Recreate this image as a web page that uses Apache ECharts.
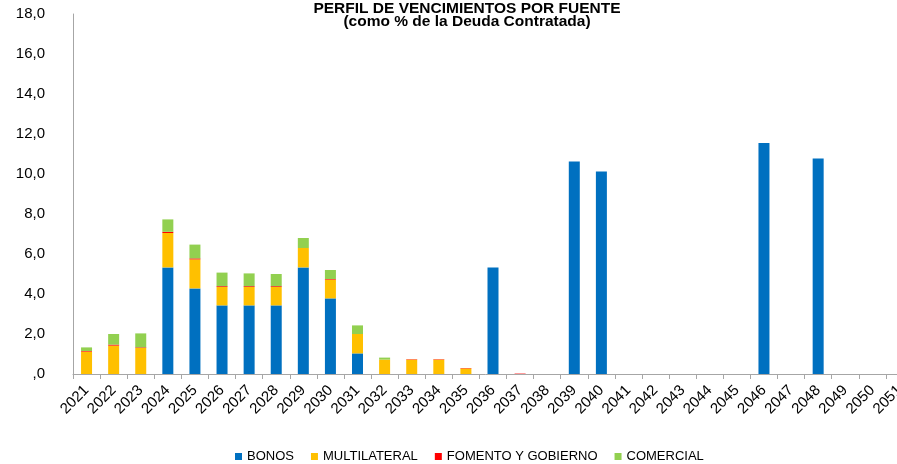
<!DOCTYPE html>
<html>
<head>
<meta charset="utf-8">
<script src="https://cdn.jsdelivr.net/npm/echarts@6/dist/echarts.min.js"></script>
<style>
  html, body { margin: 0; padding: 0; background: #ffffff; }
  #chart { width: 897px; height: 464px; }
</style>
</head>
<body>
<div id="chart"></div>
<script>
const categories = ['2021','2022','2023','2024','2025','2026','2027','2028','2029','2030','2031','2032','2033','2034','2035','2036','2037','2038','2039','2040','2041','2042','2043','2044','2045','2046','2047','2048','2049','2050','2051'];
const bonos        = [0, 0, 0, 5.33, 4.28, 3.43, 3.43, 3.43, 5.33, 3.78, 1.03, 0, 0, 0, 0, 5.33, 0, 0, 10.62, 10.12, 0, 0, 0, 0, 0, 11.55, 0, 10.77, 0, 0, 0];
const multilateral = [1.12, 1.42, 1.30, 1.72, 1.45, 0.92, 0.92, 0.92, 0.97, 0.94, 0.97, 0.72, 0.72, 0.72, 0.28, 0, 0, 0, 0, 0, 0, 0, 0, 0, 0, 0, 0, 0, 0, 0, 0];
const fomento      = [0.03, 0.05, 0.03, 0.06, 0.05, 0.04, 0.04, 0.04, 0, 0.03, 0, 0, 0.02, 0.02, 0.02, 0, 0.02, 0, 0, 0, 0, 0, 0, 0, 0, 0, 0, 0, 0, 0, 0];
const comercial    = [0.18, 0.53, 0.70, 0.62, 0.69, 0.68, 0.64, 0.61, 0.50, 0.45, 0.43, 0.10, 0, 0, 0, 0, 0, 0, 0, 0, 0, 0, 0, 0, 0, 0, 0, 0, 0, 0, 0];
const yTickLabels  = [',0', '2,0', '4,0', '6,0', '8,0', '10,0', '12,0', '14,0', '16,0', '18,0'];
const seriesNames  = ['BONOS', 'MULTILATERAL', 'FOMENTO Y GOBIERNO', 'COMERCIAL'];
const titleLines   = ['PERFIL DE VENCIMIENTOS POR FUENTE', '(como % de la Deuda Contratada)'];

const FONT = "'Liberation Sans', Arial, sans-serif";
const colors = ['#0070C0', '#FFC000', '#FF0000', '#92D050'];
const seriesData = [bonos, multilateral, fomento, comercial];

const chart = echarts.init(document.getElementById('chart'), null, { renderer: 'canvas' });
chart.setOption({
  animation: false,
  backgroundColor: '#ffffff',
  color: colors,
  title: {
    text: titleLines.join('\n'),
    left: 467,
    top: 2,
    padding: 0,
    textAlign: 'center',
    textStyle: { fontFamily: FONT, fontSize: 15.5, fontWeight: 'bold', color: '#000000', lineHeight: 13 }
  },
  legend: {
    data: seriesNames,
    left: 235,
    top: 450,
    padding: 0,
    itemWidth: 7,
    itemHeight: 7,
    itemGap: 17,
    icon: 'rect',
    textStyle: { fontFamily: FONT, fontSize: 13, color: '#000000' }
  },
  grid: { left: 73, right: -16, top: 14, bottom: 90, outerBoundsMode: 'none', containLabel: false },
  xAxis: {
    type: 'category',
    data: categories,
    boundaryGap: true,
    axisLine: { show: true, lineStyle: { color: '#a6a6a6', width: 1 } },
    axisTick: { show: true, length: 5, lineStyle: { color: '#a6a6a6' } },
    axisLabel: { interval: 0, rotate: 45, margin: 14, fontFamily: FONT, fontSize: 15, color: '#000000' },
    splitLine: { show: false }
  },
  yAxis: {
    type: 'value',
    min: 0, max: 18, interval: 2,
    axisLine: { show: true, lineStyle: { color: '#a6a6a6', width: 1 } },
    axisTick: { show: false },
    splitLine: { show: false },
    axisLabel: {
      margin: 28,
      fontFamily: FONT, fontSize: 15, color: '#000000',
      formatter: function (v) { return yTickLabels[Math.round(v / 2)]; }
    }
  },
  series: seriesNames.map(function (name, i) {
    return {
      name: name,
      type: 'bar',
      stack: 'total',
      barWidth: 11,
      data: seriesData[i],
      itemStyle: { color: colors[i] },
      emphasis: { disabled: true }
    };
  })
});
</script>
</body>
</html>
